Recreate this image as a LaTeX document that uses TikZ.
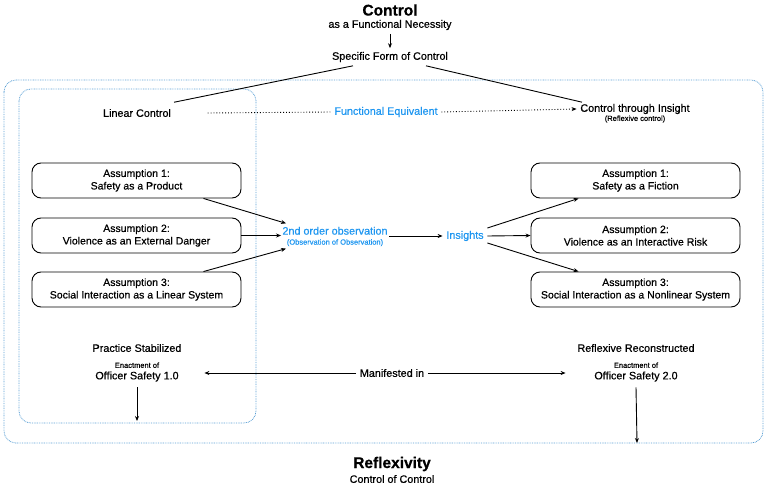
\documentclass[tikz,border=0pt]{standalone}
\usepackage{fontspec}
\setmainfont{Liberation Sans}[FakeBold=0.6]
\usetikzlibrary{arrows.meta, positioning}
\definecolor{cblue}{HTML}{1E96F0}
\definecolor{cframe}{HTML}{5A9FD4}
\tikzset{
  every picture/.style={line width=0.9pt},
  assum/.style={draw, rounded corners=9pt, minimum width=209pt, minimum height=35pt, align=center, inner sep=2pt, font=\fontsize{10.5}{12.5}\selectfont},
  txt/.style={align=center, font=\fontsize{10.8}{12.5}\selectfont},
  note/.style={align=center, font=\fontsize{7.5}{9}\selectfont},
  arrow/.style={-{Stealth[length=5pt, width=4pt]}, line width=0.9pt},
  frame/.style={draw=cframe, dash pattern=on 0.8pt off 0.9pt, line width=0.8pt, rounded corners=12pt},
  title/.style={font=\fontsize{15.5}{18}\selectfont\bfseries},
}

\begin{document}
\begin{tikzpicture}[x=1pt, y=-1pt]
  \useasboundingbox (0,0) rectangle (767,486);
  % frames
  \draw[frame] (4,80) rectangle (763,443);
  \draw[frame] (19,89) rectangle (256,423);

  % top
  \node[title] (ctl) at (390,10) {Control};
  \node[txt] (need) at (390,25) {as a Functional Necessity};
  \node[txt] (spec) at (390,57) {Specific Form of Control};
  \draw[arrow] (need.south) -- (spec.north);

  \node[txt] (lin) at (137,113) {Linear Control};
  \node[txt] (ins) at (635,109) {Control through Insight};
  \node[note] (insnote) at (635,119) {(Reflexive control)};
  \node[txt, text=cblue] (feq) at (386,112) {Functional Equivalent};
  \draw ([xshift=-37pt]spec.south) -- ([xshift=37pt,yshift=3pt]lin.north);
  \draw ([xshift=36pt]spec.south) -- ([xshift=-53pt,yshift=-2pt]ins.north);
  \draw[dotted] ([xshift=33pt]lin.east) -- (feq.west);
  \draw[dotted, arrow] (feq.east) -- (ins.west);

  % assumptions
  \node[assum] (a1l) at (136.5,180.5) {Assumption 1:\\Safety as a Product};
  \node[assum] (a2l) at (136.5,235.5) {Assumption 2:\\Violence as an External Danger};
  \node[assum] (a3l) at (136.5,289.5) {Assumption 3:\\Social Interaction as a Linear System};
  \node[assum] (a1r) at (635.5,180.5) {Assumption 1:\\Safety as a Fiction};
  \node[assum] (a2r) at (635.5,235.5) {Assumption 2:\\Violence as an Interactive Risk};
  \node[assum] (a3r) at (635.5,289.5) {Assumption 3:\\Social Interaction as a Nonlinear System};

  \node[txt, text=cblue, inner sep=1pt] (obs) at (335,236.5) {2nd order observation\\[-2.5pt]{\fontsize{7.5}{9}\selectfont (Observation of Observation)}};
  \node[txt, text=cblue] (insight) at (465,236) {Insights};

  \draw[arrow] ([xshift=-38pt]a1l.south east) -- ([xshift=5pt,yshift=2pt]obs.north west);
  \draw[arrow] (a2l.east) -- (obs.west |- a2l.east);
  \draw[arrow] ([xshift=-38pt]a3l.north east) -- ([xshift=5pt,yshift=-1pt]obs.south west);
  \draw[arrow] (obs.east |- insight.west) -- (insight.west);
  \draw[arrow] ([yshift=8pt]insight.east) -- ([xshift=48pt]a1r.south west);
  \draw[arrow] (insight.east) -- (a2r.west);
  \draw[arrow] ([yshift=-7pt]insight.east) -- ([xshift=48pt]a3r.north west);

  % bottom
  \node[txt] (prac) at (137,348) {Practice Stabilized};
  \node[txt] (off1) at (137,372) {{\fontsize{7.5}{9}\selectfont Enactment of}\\[-1pt]Officer Safety 1.0};
  \node[txt] (refl) at (636,348) {Reflexive Reconstructed};
  \node[txt] (off2) at (636,372) {{\fontsize{7.5}{9}\selectfont Enactment of}\\[-1pt]Officer Safety 2.0};
  \node[txt] (man) at (392,373) {Manifested in};
  \draw[arrow] (man.west) -- ([xshift=22pt]off1.east |- man.west);
  \draw[arrow] (man.east) -- ([xshift=-25pt]off2.west |- man.east);

  \coordinate (end1) at (137,421);
  \coordinate (end2) at (637,443);
  \draw[arrow] ([yshift=-2pt]off1.south) -- (end1);
  \draw[arrow] ([yshift=-2pt]off2.south) -- (end2);

  \node[title] (rfx) at (392,464) {Reflexivity};
  \node[txt] (coc) at (392,479) {Control of Control};
\end{tikzpicture}
\end{document}
